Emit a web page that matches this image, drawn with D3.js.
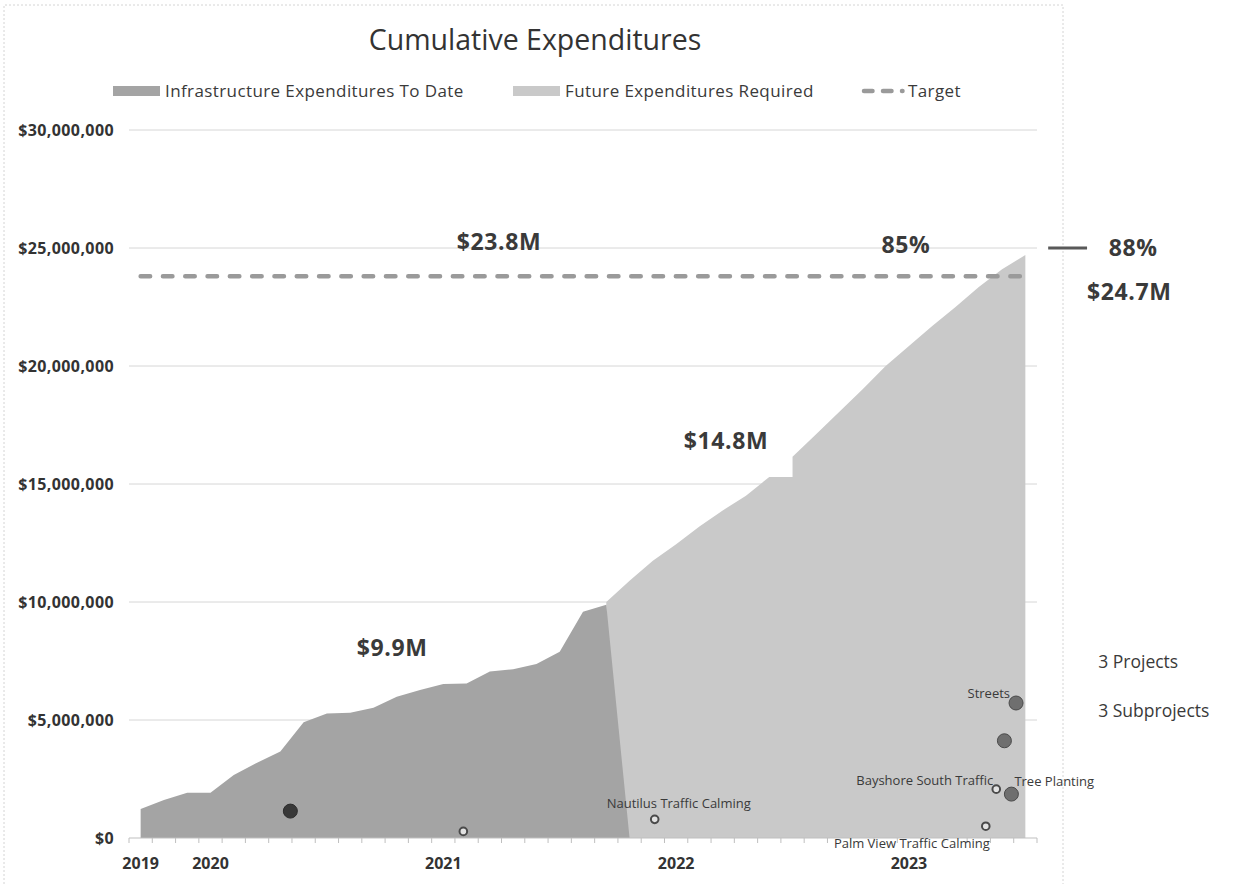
<!DOCTYPE html>
<html>
<head>
<meta charset="utf-8">
<script src="https://cdn.jsdelivr.net/npm/d3@7"></script>
<style>
  body { margin: 0; background: #fff; }
  svg { display: block; font-family: "Open Sans", sans-serif; }
</style>
</head>
<body>
<svg id="chart" width="1249" height="885"></svg>
<script>
// reporting periods (10 per year), values in $ millions
const yearLabels = ["2019", "2020", "2021", "2022", "2023"];
const yearPeriods = [0, 3, 13, 23, 33];

const toDatePeriods = [0, 1, 2, 3, 4, 5, 6, 7, 8, 9, 10, 11, 12, 13, 14, 15, 16, 17, 18, 19, 20, 21];
const toDateValues = [1.23, 1.61, 1.92, 1.92, 2.67, 3.19, 3.66, 4.9, 5.28, 5.31, 5.52, 5.99, 6.27, 6.53, 6.55, 7.05, 7.15, 7.37, 7.89, 9.59, 9.88, 0];

const futurePeriods = [20, 21, 22, 23, 24, 25, 26, 27, 28, 28, 29, 30, 31, 32, 33, 34, 35, 36, 37, 38];
const futureValues = [10.0, 10.9, 11.75, 12.45, 13.2, 13.88, 14.5, 15.3, 15.3, 16.15, 17.1, 18.05, 19.0, 20.0, 20.85, 21.7, 22.5, 23.35, 24.1, 24.7];

const targetValue = 23.8;
const targetPeriods = [0, 38];

const markerNames = ["", "", "Nautilus Traffic Calming", "Streets", "", "Tree Planting", "Bayshore South Traffic", "Palm View Traffic Calming"];
const markerPeriods = [6.43, 13.86, 22.08, 37.6, 37.1, 37.4, 36.75, 36.3];
const markerValues = [1.14, 0.28, 0.79, 5.72, 4.12, 1.86, 2.07, 0.5];
const markerTypes = ["completed", "subproject", "subproject", "project", "project", "project", "subproject", "subproject"];

const yTicks = [0, 5, 10, 15, 20, 25, 30];
const calloutLabels = ["$23.8M", "85%", "$14.8M", "$9.9M", "88%", "$24.7M"];
const countLabels = ["3 Projects", "3 Subprojects"];

const svg = d3.select("#chart");
const darkFill = "#a4a4a4";
const lightFill = "#c9c9c9";
const textCol = "#3a3a3a";

const x = d3.scaleLinear().domain([-0.5, 38.5]).range([129, 1037]);
const y = d3.scaleLinear().domain([0, 30]).range([838, 130]);

// chart frame
svg.append("path")
    .attr("d", "M4,884V5H1063V884")
    .attr("fill", "none")
    .attr("stroke", "#d4d4d4")
    .attr("stroke-dasharray", "2,2");

// title
svg.append("text")
    .attr("x", 535).attr("y", 50)
    .attr("text-anchor", "middle")
    .attr("font-size", 28.5)
    .attr("fill", "#333")
    .text("Cumulative Expenditures");

// gridlines
svg.append("g")
    .selectAll("line")
    .data(yTicks.filter(d => d > 0))
    .enter().append("line")
    .attr("x1", x(-0.5)).attr("x2", x(38.5))
    .attr("y1", d => y(d)).attr("y2", d => y(d))
    .attr("stroke", "#d6d6d6")
    .attr("stroke-width", 1);

// y labels
svg.append("g")
    .selectAll("text")
    .data(yTicks)
    .enter().append("text")
    .attr("x", 114).attr("y", d => y(d))
    .attr("dy", "0.35em")
    .attr("text-anchor", "end")
    .attr("font-size", 16)
    .attr("font-weight", "bold")
    .attr("letter-spacing", "0.4px")
    .attr("fill", "#333")
    .text(d => d3.format("$,")(d * 1e6));

// areas
const future = futurePeriods.map((p, i) => ({ p, v: futureValues[i] }));
const toDate = toDatePeriods.map((p, i) => ({ p, v: toDateValues[i] }));
const area = d3.area().x(d => x(d.p)).y0(y(0)).y1(d => y(d.v));

svg.append("path").datum(future).attr("d", area).attr("fill", lightFill);
svg.append("path").datum(toDate).attr("d", area).attr("fill", darkFill);

// target line
svg.append("path")
    .datum(targetPeriods)
    .attr("d", d3.line().x(d => x(d)).y(() => y(targetValue)))
    .attr("fill", "none")
    .attr("stroke", "#9a9a9a")
    .attr("stroke-width", 4.5)
    .attr("stroke-linecap", "round")
    .attr("stroke-dasharray", "9.5,12.8");

// x axis
svg.append("line")
    .attr("x1", x(-0.5)).attr("x2", x(38.5))
    .attr("y1", y(0)).attr("y2", y(0))
    .attr("stroke", "#bfbfbf");
svg.append("g")
    .selectAll("line")
    .data(d3.range(-0.5, 39, 1))
    .enter().append("line")
    .attr("x1", d => x(d)).attr("x2", d => x(d))
    .attr("y1", y(0)).attr("y2", y(0) + 5)
    .attr("stroke", "#bfbfbf");
svg.append("g")
    .selectAll("text")
    .data(yearLabels)
    .enter().append("text")
    .attr("x", (d, i) => x(yearPeriods[i]))
    .attr("y", 869)
    .attr("text-anchor", "middle")
    .attr("font-size", 16)
    .attr("font-weight", "bold")
    .attr("fill", "#333")
    .text(d => d);

// project markers
const markers = markerNames.map((name, i) => ({
    name, p: markerPeriods[i], v: markerValues[i], type: markerTypes[i]
}));
const mg = svg.append("g");
mg.selectAll("circle")
    .data(markers)
    .enter().append("circle")
    .attr("cx", d => x(d.p))
    .attr("cy", d => y(d.v))
    .attr("r", d => d.type === "subproject" ? 3.8 : 7)
    .attr("fill", d => d.type === "completed" ? "#383838" : d.type === "project" ? "#6f6f6f" : "#e2e2e2")
    .attr("stroke", d => d.type === "completed" ? "#2c2c2c" : "#4a4a4a")
    .attr("stroke-width", d => d.type === "subproject" ? 2 : 1);

// label placement per marker: [dx, dy, anchor]
const labelPlace = {
    "Nautilus Traffic Calming": [24, -16, "middle"],
    "Streets": [-6, -10, "end"],
    "Tree Planting": [3, -13, "start"],
    "Bayshore South Traffic": [-3, -9, "end"],
    "Palm View Traffic Calming": [4, 17, "end"]
};
mg.selectAll("text")
    .data(markers.filter(d => d.name))
    .enter().append("text")
    .attr("x", d => x(d.p) + labelPlace[d.name][0])
    .attr("y", d => y(d.v) + labelPlace[d.name][1])
    .attr("dy", "0.35em")
    .attr("text-anchor", d => labelPlace[d.name][2])
    .attr("font-size", 13)
    .attr("fill", textCol)
    .text(d => d.name);

// callouts, positioned in period / $M space
const callouts = [
    { p: 15.39, v: 25.25, anchor: "middle" },
    { p: 32.87, v: 25.13, anchor: "middle" },
    { p: 25.14, v: 16.82, anchor: "middle" },
    { p: 10.8, v: 8.05, anchor: "middle" },
    { p: 42.63, v: 25.0, anchor: "middle" },
    { p: 42.46, v: 23.14, anchor: "middle" }
];
svg.append("g")
    .selectAll("text")
    .data(calloutLabels)
    .enter().append("text")
    .attr("x", (d, i) => x(callouts[i].p))
    .attr("y", (d, i) => y(callouts[i].v))
    .attr("dy", "0.35em")
    .attr("text-anchor", (d, i) => callouts[i].anchor)
    .attr("font-size", 23)
    .attr("font-weight", "bold")
    .attr("letter-spacing", "0.6px")
    .attr("fill", textCol)
    .text(d => d);

svg.append("line")
    .attr("x1", x(38.98)).attr("x2", x(40.65))
    .attr("y1", y(25)).attr("y2", y(25))
    .attr("stroke", "#595959")
    .attr("stroke-width", 3);

svg.append("g")
    .selectAll("text")
    .data(countLabels)
    .enter().append("text")
    .attr("x", x(41.13))
    .attr("y", (d, i) => y([7.46, 5.38][i]))
    .attr("dy", "0.35em")
    .attr("font-size", 17.5)
    .attr("fill", textCol)
    .text(d => d);

// legend
const legend = svg.append("g").attr("transform", "translate(0,91)");
const legendItems = [
    { label: "Infrastructure Expenditures To Date", fill: darkFill, x0: 113 },
    { label: "Future Expenditures Required", fill: lightFill, x0: 513 }
];
legend.selectAll("rect")
    .data(legendItems)
    .enter().append("rect")
    .attr("x", d => d.x0).attr("y", -5)
    .attr("width", 47).attr("height", 10)
    .attr("fill", d => d.fill);
legend.selectAll("text.item")
    .data(legendItems)
    .enter().append("text")
    .attr("class", "item")
    .attr("x", d => d.x0 + 52).attr("y", 0)
    .attr("dy", "0.35em")
    .attr("font-size", 17)
    .attr("letter-spacing", "0.4px")
    .attr("fill", textCol)
    .text(d => d.label);
legend.append("line")
    .attr("x1", 864).attr("x2", 902.5)
    .attr("stroke", "#9a9a9a")
    .attr("stroke-width", 4.5)
    .attr("stroke-linecap", "round")
    .attr("stroke-dasharray", "8.5,10.5");
legend.append("text")
    .attr("x", 908).attr("y", 0)
    .attr("dy", "0.35em")
    .attr("font-size", 17)
    .attr("letter-spacing", "0.4px")
    .attr("fill", textCol)
    .text("Target");
</script>
</body>
</html>
